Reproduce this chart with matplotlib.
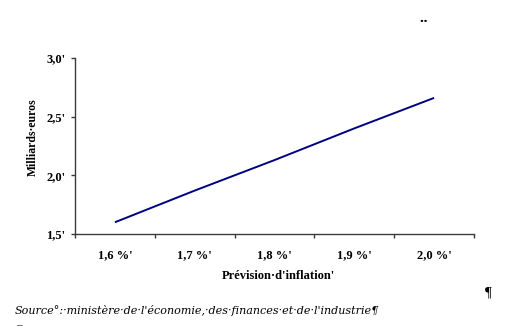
import matplotlib
matplotlib.use("Agg")
import matplotlib.pyplot as plt
from matplotlib.ticker import FixedLocator, NullFormatter

# Inflation forecast scenarios and the corresponding amount (billions of euros)
categories = ["1,6 %'", "1,7 %'", "1,8 %'", "1,9 %'", "2,0 %'"]
values = [1.60, 1.87, 2.13, 2.40, 2.66]
y_ticks = [1.5, 2.0, 2.5, 3.0]
y_tick_labels = ["1,5'", "2,0'", "2,5'", "3,0'"]

W, H = 514, 335
fig = plt.figure(figsize=(W / 100, H / 100), dpi=100)
fig.patch.set_facecolor("white")

serif_bold = dict(family="Liberation Serif", weight="bold")

ax = fig.add_axes([75 / W, 1 - 234 / H, (474 - 75) / W, (234 - 58) / H])
x = list(range(len(categories)))
ax.plot(x, values, color="#000080", linewidth=1.4, solid_capstyle="butt")

ax.set_xlim(-0.5, len(categories) - 0.5)
ax.set_ylim(1.5, 3.0)

for side in ("top", "right"):
    ax.spines[side].set_visible(False)
for side in ("left", "bottom"):
    ax.spines[side].set_color("#3a3a3a")
    ax.spines[side].set_linewidth(1.0)

# y axis
ax.set_yticks(y_ticks)
ax.set_yticklabels(y_tick_labels, fontsize=9, **serif_bold)
ax.tick_params(axis="y", direction="out", length=3, width=1, color="#3a3a3a", pad=4)

# x axis: tick marks between categories, labels centred on categories
ax.xaxis.set_major_locator(FixedLocator([i - 0.5 for i in range(len(categories) + 1)]))
ax.xaxis.set_major_formatter(NullFormatter())
ax.xaxis.set_minor_locator(FixedLocator(x))
ax.set_xticklabels(categories, minor=True, fontsize=9, **serif_bold)
ax.tick_params(axis="x", which="major", direction="out", length=3, width=1, color="#3a3a3a")
ax.tick_params(axis="x", which="minor", length=0, pad=11)

fig.text(278 / W, 1 - 276 / H, "Prévision·d'inflation'", ha="center", va="center",
         fontsize=9, **serif_bold)
fig.text(33 / W, 1 - 137 / H, "Milliards·euros", ha="center", va="center",
         rotation=90, fontsize=8.5, **serif_bold)

fig.text(15 / W, 1 - 311 / H,
         "Source°:·ministère·de·l'économie,·des·finances·et·de·l'industrie¶",
         ha="left", va="center", fontsize=8, family="DejaVu Serif", style="italic")
fig.text(488 / W, 1 - 293 / H, "¶", ha="center", va="center", fontsize=11,
         family="Liberation Serif")
fig.text(423 / W, 1 - 29 / H, "¨", ha="center", va="center", fontsize=16,
         family="Liberation Serif", weight="bold")
fig.text(19 / W, 1 - 326 / H, "–", ha="center", va="center", fontsize=8,
         family="Liberation Serif")

fig.savefig("out.png", dpi=100)
